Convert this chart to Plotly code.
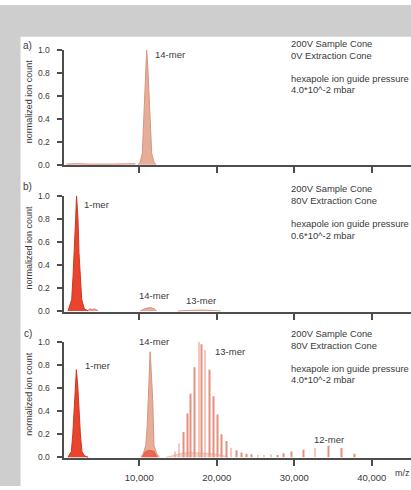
import plotly.graph_objects as go

W, H = 411, 490

# ---------------- data ----------------
# panel a) 0V extraction cone, 4.0e-2 mbar
a_14mer_mz = [9800, 10100, 10390, 10600, 10800, 10950, 11100, 11290, 11600, 11900, 12200]
a_14mer_int = [0, 0.02, 0.1, 0.5, 0.85, 1.0, 0.85, 0.5, 0.1, 0.02, 0]
a_base_mz = [600, 2000, 3500, 5000, 6500, 8000, 9500]
a_base_int = [0.006, 0.01, 0.006, 0.009, 0.006, 0.008, 0.01]

# panel b) 80V extraction cone, 0.6e-2 mbar
b_1mer_mz = [800, 1280, 1450, 1610, 1790, 1900, 2090, 2220, 2400, 2570, 2900, 3400]
b_1mer_int = [0, 0.1, 0.3, 0.5, 0.8, 1.0, 0.8, 0.5, 0.3, 0.1, 0.02, 0]
b_minor_mz = [3300, 3600, 3900, 4300, 4700]
b_minor_int = [0, 0.02, 0.012, 0.018, 0]
b_14mer_mz = [10100, 10700, 11380, 11900, 12250]
b_14mer_int = [0, 0.02, 0.03, 0.02, 0]
b_13mer_mz = [15000, 16500, 17800, 19000, 20500]
b_13mer_int = [0, 0.006, 0.008, 0.006, 0]

# panel c) 80V extraction cone, 4.0e-2 mbar
c_1mer_mz = [800, 1230, 1420, 1570, 1760, 1880, 2060, 2220, 2400, 2600, 2900, 3400]
c_1mer_int = [0, 0.05, 0.2, 0.4, 0.62, 0.76, 0.62, 0.4, 0.2, 0.05, 0.015, 0]
c_14mer_mz = [10200, 10500, 10830, 11000, 11160, 11300, 11400, 11500, 11730, 11900, 12250, 12600]
c_14mer_int = [0, 0.03, 0.1, 0.25, 0.5, 0.8, 0.915, 0.8, 0.5, 0.1, 0.03, 0]
c_14base_mz = [10400, 10800, 11350, 11900, 12300]
c_14base_int = [0, 0.05, 0.06, 0.05, 0]
c_13base_mz = [13500, 14500, 15500, 16500, 17500, 18500, 19500, 20500, 21500]
c_13base_int = [0, 0.02, 0.035, 0.04, 0.04, 0.035, 0.03, 0.02, 0]
c_13mer_mz = [14610, 15120, 15680, 16190, 16630, 17100, 17700, 18050, 18480, 19030,
              19550, 20060, 20580, 21280, 21830, 22570, 23210]
c_13mer_int = [0.05, 0.12, 0.22, 0.38, 0.55, 0.78, 1.0, 0.98, 0.93, 0.76,
               0.53, 0.37, 0.2, 0.14, 0.08, 0.06, 0.04]
c_minor_mz = [23800, 24500, 25300, 26100, 27000, 27800]
c_minor_int = [0.03, 0.025, 0.02, 0.02, 0.025, 0.02]
c_12mer_mz = [28580, 29660, 31160, 32670, 34390, 36120, 37800]
c_12mer_int = [0.035, 0.05, 0.065, 0.08, 0.1, 0.08, 0.03]

x_ticks = [10000, 20000, 30000, 40000]
y_ticks = [0.0, 0.2, 0.4, 0.6, 0.8, 1.0]
panel_letters = ["a)", "b)", "c)"]
cone_texts = [
    ["200V Sample Cone", "0V Extraction Cone", "hexapole ion guide pressure", "4.0*10^-2 mbar"],
    ["200V Sample Cone", "80V Extraction Cone", "hexapole ion guide pressure", "0.6*10^-2 mbar"],
    ["200V Sample Cone", "80V Extraction Cone", "hexapole ion guide pressure", "4.0*10^-2 mbar"],
]

# ---------------- style ----------------
FONT = "Liberation Sans"
TXT = "#3a3a3a"
AX = "#4d4d4d"
RED_FILL = "#e8442e"
RED_LINE = "#d2361f"
SAL_FILL = "#e6ad98"
SAL_LINE = "#d8957f"
SPIKE = "#e58f7c"
GRAY = "#cecece"


def fx(px):
    return px / W


def fy(py):
    return 1 - py / H


fig = go.Figure()


def prof(x, y, ax, fill, line, width=1):
    fig.add_trace(go.Scatter(x=x, y=y, xaxis=ax[0], yaxis=ax[1], mode="lines",
                             fill="tozeroy", fillcolor=fill,
                             line=dict(color=line, width=width),
                             hoverinfo="skip", showlegend=False, cliponaxis=False))


def spikes(x, y, ax, color, w=70):
    fig.add_trace(go.Bar(x=x, y=y, xaxis=ax[0], yaxis=ax[1], width=w,
                         marker=dict(color=color, line=dict(width=0)),
                         hoverinfo="skip", showlegend=False, cliponaxis=False))


A = ("x", "y")
B = ("x2", "y2")
C = ("x3", "y3")

prof(a_base_mz, a_base_int, A, "rgba(232,120,100,0.5)", "rgba(220,110,90,0.6)")
prof(a_14mer_mz, a_14mer_int, A, SAL_FILL, SAL_LINE)

prof(b_minor_mz, b_minor_int, B, "rgba(232,100,80,0.6)", "rgba(220,90,70,0.7)")
prof(b_14mer_mz, b_14mer_int, B, "rgba(230,150,130,0.8)", SAL_LINE)
prof(b_13mer_mz, b_13mer_int, B, "rgba(230,150,130,0.6)", SAL_LINE)
prof(b_1mer_mz, b_1mer_int, B, RED_FILL, RED_LINE)

prof(c_13base_mz, c_13base_int, C, "rgba(236,160,145,0.45)", "rgba(230,150,135,0.5)")
prof(c_14mer_mz, c_14mer_int, C, SAL_FILL, SAL_LINE)
prof(c_14base_mz, c_14base_int, C, "rgba(236,80,60,0.75)", "rgba(236,80,60,0.8)")
prof(c_1mer_mz, c_1mer_int, C, RED_FILL, RED_LINE)
spikes(c_13mer_mz, c_13mer_int, C, SPIKE)
spikes(c_minor_mz, c_minor_int, C, SPIKE)
spikes(c_12mer_mz, c_12mer_int, C, SPIKE)

# panel geometry (pixel rows of y=1.0 and y=0.0)
rows = [(45.6, 162.7), (194.3, 311.7), (343.3, 460.7)]
YMIN = -0.006
x_left_px = 63.5
layout = dict(
    width=W, height=H, margin=dict(l=0, r=0, t=0, b=0),
    paper_bgcolor="white", plot_bgcolor="rgba(0,0,0,0)",
    barmode="overlay", showlegend=False,
    font=dict(family=FONT, color=TXT, size=9.5),
)
for i, (top, bot) in enumerate(rows):
    sfx = "" if i == 0 else str(i + 1)
    pxper = (bot - top)
    bottom_px = bot - YMIN * pxper
    layout["xaxis" + sfx] = dict(
        domain=[fx(x_left_px), 1], range=[220, 45060], anchor="y" + sfx,
        showline=True, linecolor=AX, linewidth=2, mirror=False,
        ticks="outside", ticklen=6, tickwidth=2, tickcolor=AX,
        tickvals=x_ticks, tickformat=",d", showticklabels=(i == 2),
        ticklabelstandoff=4,
        tickfont=dict(size=9.5, color=TXT, family=FONT),
        showgrid=False, zeroline=False, fixedrange=True,
    )
    layout["yaxis" + sfx] = dict(
        domain=[fy(bottom_px), fy(top)], range=[YMIN, 1.0], anchor="x" + sfx,
        showline=True, linecolor=AX, linewidth=2,
        ticks="outside", ticklen=5, tickwidth=1.5, tickcolor=AX,
        tickvals=y_ticks, tickformat=".1f", ticklabelstandoff=5,
        tickfont=dict(size=8.5, color=TXT, family=FONT),
        showgrid=False, zeroline=False, fixedrange=True,
    )
fig.update_layout(**layout)

# grey frame strips
fig.add_shape(type="rect", xref="paper", yref="paper", x0=0, x1=fx(20.5), y0=0, y1=1,
              fillcolor=GRAY, line=dict(width=0), layer="below")
fig.add_shape(type="rect", xref="paper", yref="paper", x0=0, x1=1, y0=fy(32.3), y1=1,
              fillcolor=GRAY, line=dict(width=0), layer="below")


def note(text, xp, yp, size=9.5, anchor="left", angle=0):
    fig.add_annotation(text=text, xref="paper", yref="paper", x=fx(xp), y=fy(yp),
                       xanchor=anchor, yanchor="middle", showarrow=False, textangle=angle,
                       font=dict(size=size, color=TXT, family=FONT))


# panel letters
for lab, (xp, yp) in zip(panel_letters, [(21, 41), (21, 185), (22, 335)]):
    note(lab, xp, yp, size=10)

# y titles
for top, bot in rows:
    note("normalized ion count", 29, (top + bot) / 2 - 6, size=9, anchor="center", angle=-90)

# condition texts
text_rows = [[39.3, 51.5, 75, 86.5], [187, 199, 223, 235], [335, 346.7, 370.5, 381.7]]
for texts, ys in zip(cone_texts, text_rows):
    for t, yp in zip(texts, ys):
        note(t, 288.5, yp, size=9.4)

# peak labels
note("14-mer", 152.7, 50)
note("1-mer", 81.7, 203.3)
note("14-mer", 137.3, 296)
note("13-mer", 184.3, 301)
note("1-mer", 83.3, 367.3)
note("14-mer", 136.7, 343.3)
note("13-mer", 213.3, 353.3)
note("12-mer", 311.7, 442.7)
note("m/z", 393, 476.7, size=9)

fig.write_html(
    "out.html",
    config={"displayModeBar": False},
    post_script="document.body.style.margin='0';document.body.style.overflow='hidden';",
)
